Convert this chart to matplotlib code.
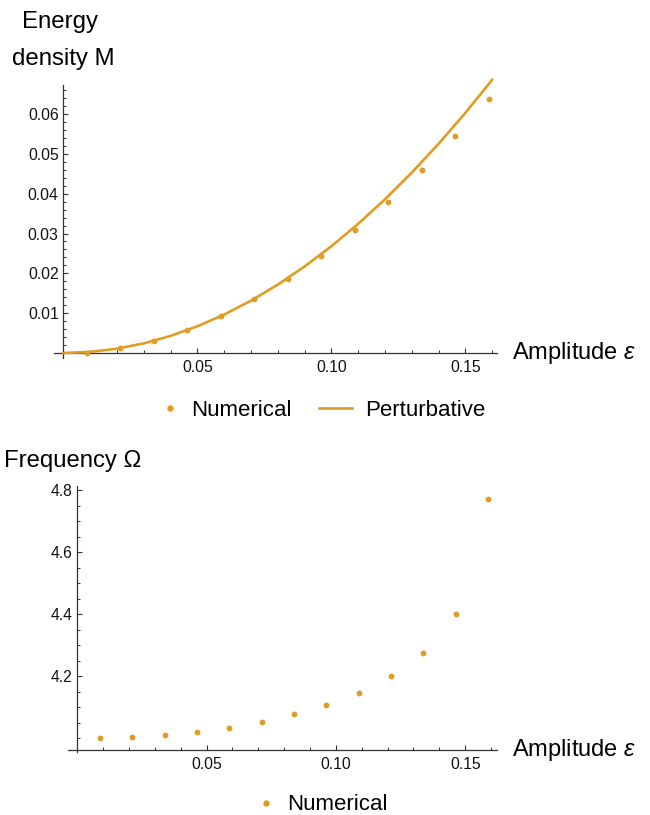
import matplotlib
matplotlib.use("Agg")
import matplotlib.pyplot as plt
from matplotlib.lines import Line2D
from matplotlib.ticker import FixedLocator, MultipleLocator, FormatStrFormatter
from matplotlib.transforms import blended_transform_factory

plt.rcParams['font.family'] = ['Liberation Sans', 'DejaVu Sans']
plt.rcParams['mathtext.fontset'] = 'custom'
plt.rcParams['mathtext.it'] = 'Liberation Sans:italic'
plt.rcParams['mathtext.rm'] = 'Liberation Sans'

ORANGE = '#E19C24'
AXIS = '#333333'

# numerical amplitudes (same for both panels)
amplitude = [0.0088, 0.0213, 0.0338, 0.0463, 0.0588, 0.0713, 0.0838,
             0.0963, 0.1088, 0.1213, 0.1338, 0.1463, 0.1588]
energy_num = [0.0001, 0.0012, 0.0030, 0.0057, 0.0092, 0.0135, 0.0185,
              0.0244, 0.0308, 0.0380, 0.0460, 0.0545, 0.0639]
freq_num = [4.001, 4.004, 4.010, 4.020, 4.034, 4.053, 4.077,
            4.106, 4.146, 4.200, 4.275, 4.400, 4.770]

# perturbative curve
pert_x = [0.00, 0.01, 0.02, 0.03, 0.04, 0.05, 0.06, 0.07, 0.08,
          0.09, 0.10, 0.11, 0.12, 0.13, 0.14, 0.15, 0.16]
pert_m = [0.0, 0.00027, 0.00107, 0.00241, 0.00429, 0.0067, 0.00965, 0.01313,
          0.01715, 0.02171, 0.0268, 0.03243, 0.03859, 0.04529, 0.05253,
          0.0603, 0.0686]

x_major = [0.05, 0.10, 0.15]
m_major = [0.01, 0.02, 0.03, 0.04, 0.05, 0.06]
f_major = [4.2, 4.4, 4.6, 4.8]

W, H = 650, 815
PT = 72 / 100  # points per pixel


def box(l, t, r, b):
    return [l / W, 1 - b / H, (r - l) / W, (b - t) / H]


def style(ax, xlim, ylim, y0, ymaj, ymin_step, yfmt):
    ax.set_xlim(xlim)
    ax.set_ylim(ylim)
    ax.patch.set_visible(False)
    for s in ('top', 'right'):
        ax.spines[s].set_visible(False)
    ax.spines['left'].set_position(('data', 0))
    ax.spines['bottom'].set_position(('data', y0))
    for s in ('left', 'bottom'):
        ax.spines[s].set_color(AXIS)
        ax.spines[s].set_linewidth(0.9)
    ax.xaxis.set_major_locator(FixedLocator(x_major))
    ax.xaxis.set_minor_locator(MultipleLocator(0.01))
    ax.xaxis.set_major_formatter(FormatStrFormatter('%.2f'))
    ax.yaxis.set_major_locator(FixedLocator(ymaj))
    ax.yaxis.set_minor_locator(MultipleLocator(ymin_step))
    ax.yaxis.set_major_formatter(FormatStrFormatter(yfmt))
    ax.tick_params(which='major', direction='in', length=5 * PT, width=0.8,
                   color=AXIS, labelsize=11.3, labelcolor='#111111')
    ax.tick_params(which='minor', direction='in', length=3 * PT, width=0.7,
                   color=AXIS)
    ax.tick_params(axis='x', which='major', pad=5)
    ax.tick_params(axis='y', which='major', pad=3.3)
    tr = blended_transform_factory(ax.transAxes, ax.transData)
    ax.annotate('Amplitude $\\varepsilon$', xy=(1, y0), xycoords=tr,
                xytext=(15 * PT, -6 * PT), textcoords='offset points',
                ha='left', va='baseline', fontsize=17)


fig = plt.figure(figsize=(6.5, 8.15), dpi=100)

# top panel: energy density
ax1 = fig.add_axes(box(54, 85, 497, 358))
style(ax1, (-0.00347, 0.1618), (-0.00126, 0.0673), 0.0, m_major, 0.002, '%.2f')
ax1.plot(pert_x, pert_m, color=ORANGE, lw=1.9, clip_on=False, zorder=3)
ax1.plot(amplitude, energy_num, ls='none', marker='o', ms=4.2,
         mec='none', color=ORANGE, zorder=4)
fig.text(60 / W, 1 - 28 / H, 'Energy', ha='center', va='baseline', fontsize=17.3)
fig.text(63 / W, 1 - 65 / H, 'density M', ha='center', va='baseline', fontsize=17.3)

# bottom panel: frequency
ax2 = fig.add_axes(box(68, 486, 497, 752))
style(ax2, (-0.00359, 0.1623), (3.956, 4.813), 3.961, f_major, 0.05, '%.1f')
ax2.plot(amplitude, freq_num, ls='none', marker='o', ms=4.2,
         mec='none', color=ORANGE, zorder=4)
fig.text(73 / W, 1 - 466.7 / H, 'Frequency \u03a9', ha='center', va='baseline',
         fontsize=17.2)

# legends
h_num = Line2D([], [], ls='none', marker='o', ms=4.6, mec='none', color=ORANGE)
h_pert = Line2D([], [], color=ORANGE, lw=1.9)
common = dict(frameon=False, borderpad=0, borderaxespad=0, fontsize=16)
fig.legend([h_num], ['Numerical'], loc='center left',
           bbox_to_anchor=(163.8 / W, 1 - 410 / H),
           handlelength=0.6, handletextpad=0.64, **common)
fig.legend([h_pert], ['Perturbative'], loc='center left',
           bbox_to_anchor=(319 / W, 1 - 410 / H),
           handlelength=1.5, handletextpad=0.585, **common)
fig.legend([h_num], ['Numerical'], loc='center left',
           bbox_to_anchor=(259.8 / W, 1 - 805 / H),
           handlelength=0.6, handletextpad=0.64, **common)

fig.savefig('out.png', dpi=100)
